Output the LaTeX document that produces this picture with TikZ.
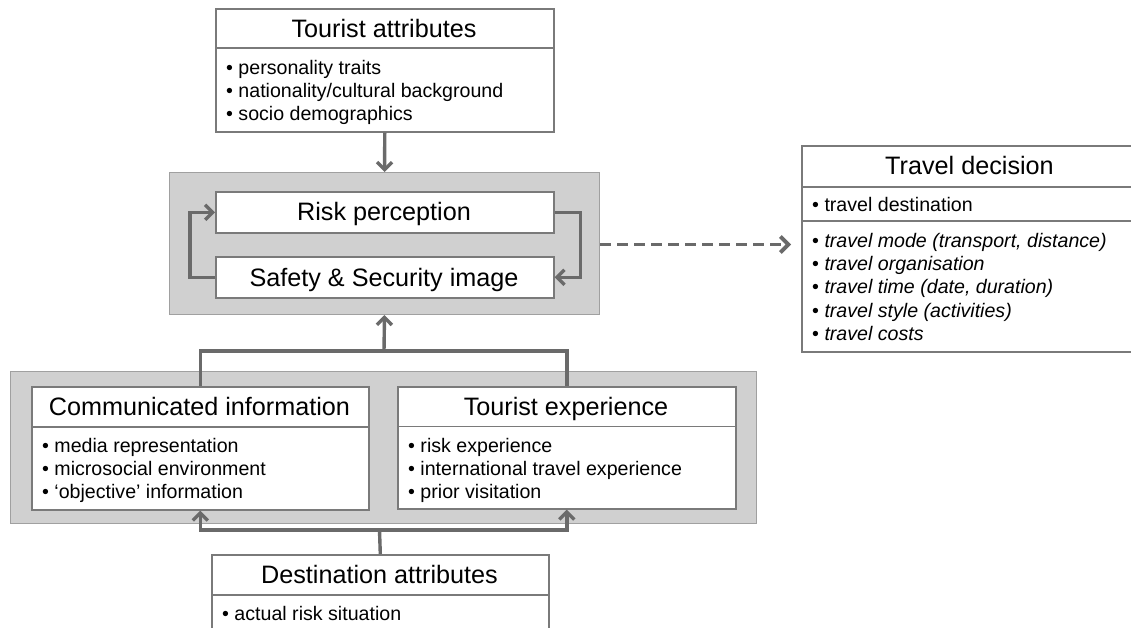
\documentclass[tikz,border=0pt]{standalone}
\usepackage{fontspec}
\setmainfont{Liberation Sans}
\usetikzlibrary{arrows.meta,calc}
\definecolor{boxline}{HTML}{7A7A7A}
\definecolor{connc}{HTML}{6A6A6A}
\definecolor{graybg}{HTML}{D0D0D0}
\definecolor{grayline}{HTML}{A0A0A0}
\tikzset{
  whitebox/.style={draw=boxline, line width=1.6pt, fill=white, inner sep=0pt, anchor=north west, rectangle},
  grayzone/.style={draw=grayline, line width=1pt, fill=graybg, inner sep=0pt, anchor=north west, rectangle},
  divider/.style={draw=boxline, line width=1.6pt},
  ttl/.style={font=\fontsize{25.2}{30}\selectfont, anchor=base, inner sep=0pt},
  itm/.style={font=\fontsize{19.6}{23}\selectfont, anchor=base west, inner sep=0pt},
  link/.style={draw=connc, line width=3.4pt},
  arr/.style={link, -{Straight Barb[length=7.5pt,width=15pt]}},
  dasharr/.style={link, line width=3.8pt, dash pattern=on 11pt off 6pt, -{Straight Barb[length=8pt,width=16pt]}}
}
\begin{document}
\begin{tikzpicture}[x=1pt,y=-1pt]
\useasboundingbox (0,0) rectangle (1131,627);
\clip (0,0) rectangle (1131,627);

% gray zones
\node[grayzone, minimum width=430pt, minimum height=142pt] (g1) at (169,172) {};
\node[grayzone, minimum width=746pt, minimum height=152pt] (g2) at (10,371) {};

% white boxes
\node[whitebox, minimum width=338pt, minimum height=123pt] (ta) at (215,8) {};
\node[whitebox, minimum width=338pt, minimum height=41pt] (rp) at (215,191) {};
\node[whitebox, minimum width=338pt, minimum height=41pt] (ss) at (215,256) {};
\node[whitebox, minimum width=337pt, minimum height=206pt] (td) at (801,145) {};
\node[whitebox, minimum width=337pt, minimum height=123pt] (ci) at (31,386) {};
\node[whitebox, minimum width=338pt, minimum height=122pt] (te) at (397,386) {};
\node[whitebox, minimum width=337pt, minimum height=123pt] (da) at (211,554) {};

% dividers
\draw[divider] (ta.west |- 0,48) -- (ta.east |- 0,48);
\draw[divider] (td.west |- 0,187) -- (td.east |- 0,187);
\draw[divider] (td.west |- 0,221) -- (td.east |- 0,221);
\draw[divider] (ci.west |- 0,427) -- (ci.east |- 0,427);
\draw[divider] (te.west |- 0,426.5) -- (te.east |- 0,426.5);
\draw[divider] (da.west |- 0,595) -- (da.east |- 0,595);

% Tourist attributes
\node[ttl] (tat) at (384,37) {Tourist attributes};
\node[itm] (ta1) at (226,74) {• personality traits};
\node[itm] (ta2) at (226,97) {• nationality/cultural background};
\node[itm] (ta3) at (226,120) {• socio demographics};

% Risk perception / image
\node[ttl] (rpt) at (384,220) {Risk perception};
\node[ttl] (sst) at (384,286) {Safety \& Security image};

% Travel decision
\node[ttl] (tdt) at (969.5,174) {Travel decision};
\node[itm] (td1) at (812,211) {• travel destination};
\node[itm] (td2) at (812,247) {• \textit{travel mode (transport, distance)}};
\node[itm] (td3) at (812,270.3) {• \textit{travel organisation}};
\node[itm] (td4) at (812,293.6) {• \textit{travel time (date, duration)}};
\node[itm] (td5) at (812,317) {• \textit{travel style (activities)}};
\node[itm] (td6) at (812,340.3) {• \textit{travel costs}};

% Communicated information
\node[ttl] (cit) at (199.5,415) {Communicated information};
\node[itm] (ci1) at (42,452) {• media representation};
\node[itm] (ci2) at (42,475) {• microsocial environment};
\node[itm] (ci3) at (42,498) {• ‘objective’ information};

% Tourist experience
\node[ttl] (tet) at (566,415) {Tourist experience};
\node[itm] (te1) at (408,452) {• risk experience};
\node[itm] (te2) at (408,475) {• international travel experience};
\node[itm] (te3) at (408,498) {• prior visitation};

% Destination attributes
\node[ttl] (dat) at (379.5,583) {Destination attributes};
\node[itm] (da1) at (222,620) {• actual risk situation};

% connectors
\draw[arr] (ta.south) -- (g1.north);
\draw[arr] (ss.west) -- ++(-25,0) |- (rp.west);
\draw[arr] (rp.east) -- ++(26,0) |- (ss.east);
\coordinate (dstart) at ($(g1.east)+(0,1)$);
\draw[dasharr, shorten >=10pt] (dstart) -- (dstart -| td.west);

\coordinate (j1) at (384,351);
\draw[link] (ci.north) |- (j1) -| (te.north);
\draw[arr] (j1) -- (g1.south);

\coordinate (j2) at (379.5,530);
\draw[link] (da.north) -- (j2);
\draw[arr] (j2) -| (ci.south);
\draw[arr] (j2) -| (te.south);
\end{tikzpicture}
\end{document}
